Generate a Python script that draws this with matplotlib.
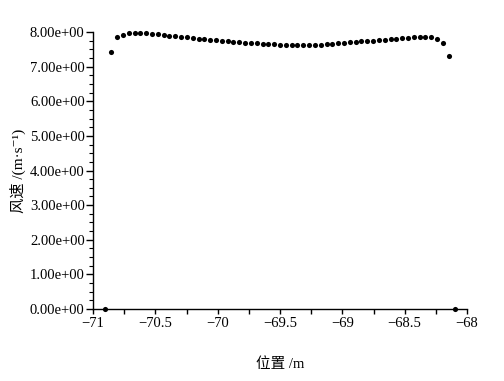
import matplotlib
matplotlib.use("Agg")
import matplotlib.pyplot as plt
from matplotlib.ticker import MultipleLocator, FormatStrFormatter

# positions (m)
position = [
    -70.900, -70.853, -70.807, -70.760, -70.713, -70.667, -70.620, -70.573,
    -70.527, -70.480, -70.433, -70.387, -70.340, -70.293, -70.247, -70.200,
    -70.153, -70.107, -70.060, -70.013, -69.967, -69.920, -69.873, -69.827,
    -69.780, -69.733, -69.687, -69.640, -69.593, -69.547, -69.500, -69.453,
    -69.407, -69.360, -69.313, -69.267, -69.220, -69.173, -69.127, -69.080,
    -69.033, -68.987, -68.940, -68.893, -68.847, -68.800, -68.753, -68.707,
    -68.660, -68.613, -68.567, -68.520, -68.473, -68.427, -68.380, -68.333,
    -68.287, -68.240, -68.193, -68.147, -68.100,
]
# wind speed (m/s)
speed = [
    0.00,
    7.42, 7.85, 7.92, 7.97, 7.98, 7.98, 7.97, 7.95, 7.93, 7.91,
    7.89, 7.88, 7.86, 7.85, 7.83, 7.81, 7.79, 7.77, 7.76, 7.75,
    7.73, 7.72, 7.71, 7.69, 7.68, 7.67, 7.66, 7.65, 7.64, 7.63,
    7.63, 7.62, 7.62, 7.62, 7.62, 7.63, 7.63, 7.64, 7.65, 7.67,
    7.69, 7.70, 7.72, 7.73, 7.74, 7.75, 7.77, 7.78, 7.79, 7.81,
    7.83, 7.84, 7.86, 7.87, 7.87, 7.86, 7.79, 7.69, 7.31,
    0.00,
]
x_ticks = [-71, -70.5, -70, -69.5, -69, -68.5, -68]
x_ticklabels = ["\u221271", "\u221270.5", "\u221270", "\u221269.5", "\u221269", "\u221268.5", "\u221268"]
y_ticks = [0, 1, 2, 3, 4, 5, 6, 7, 8]

plt.rcParams['font.family'] = ['Liberation Serif', 'Noto Sans CJK SC', 'DejaVu Serif']

fig = plt.figure(figsize=(5.04, 3.81), dpi=100)
ax = fig.add_axes([93/504, 1-309/381, (467-93)/504, (309-32)/381])

ax.plot(position, speed, linestyle='none', marker='o', ms=3.7,
        color='black', markeredgewidth=0, clip_on=False, zorder=5)

ax.set_xlim(-71, -68)
ax.set_ylim(0, 8)
ax.set_xticks(x_ticks)
ax.set_xticklabels(x_ticklabels)
ax.set_yticks(y_ticks)
ax.yaxis.set_major_formatter(FormatStrFormatter('%.2fe+00'))
ax.xaxis.set_minor_locator(MultipleLocator(0.25))
ax.yaxis.set_minor_locator(MultipleLocator(0.25))

for s in ['top', 'right']:
    ax.spines[s].set_visible(False)
for s in ['left', 'bottom']:
    ax.spines[s].set_linewidth(1.0)
    ax.spines[s].set_color('black')

ax.tick_params(axis='x', which='both', direction='out', length=3.5, width=1.0,
               labelsize=10.5, pad=2)
ax.tick_params(axis='y', which='major', direction='out', length=5, width=1.0,
               labelsize=10.5, pad=1)
ax.tick_params(axis='y', which='minor', direction='out', length=3, width=0.8)

ax.set_xlabel('位置 /m', fontsize=10.5, labelpad=20)
ax.set_ylabel('风速 /(m\u00b7s\u207b\u00b9)', fontsize=11, labelpad=3)

fig.savefig('out.png', dpi=100)
